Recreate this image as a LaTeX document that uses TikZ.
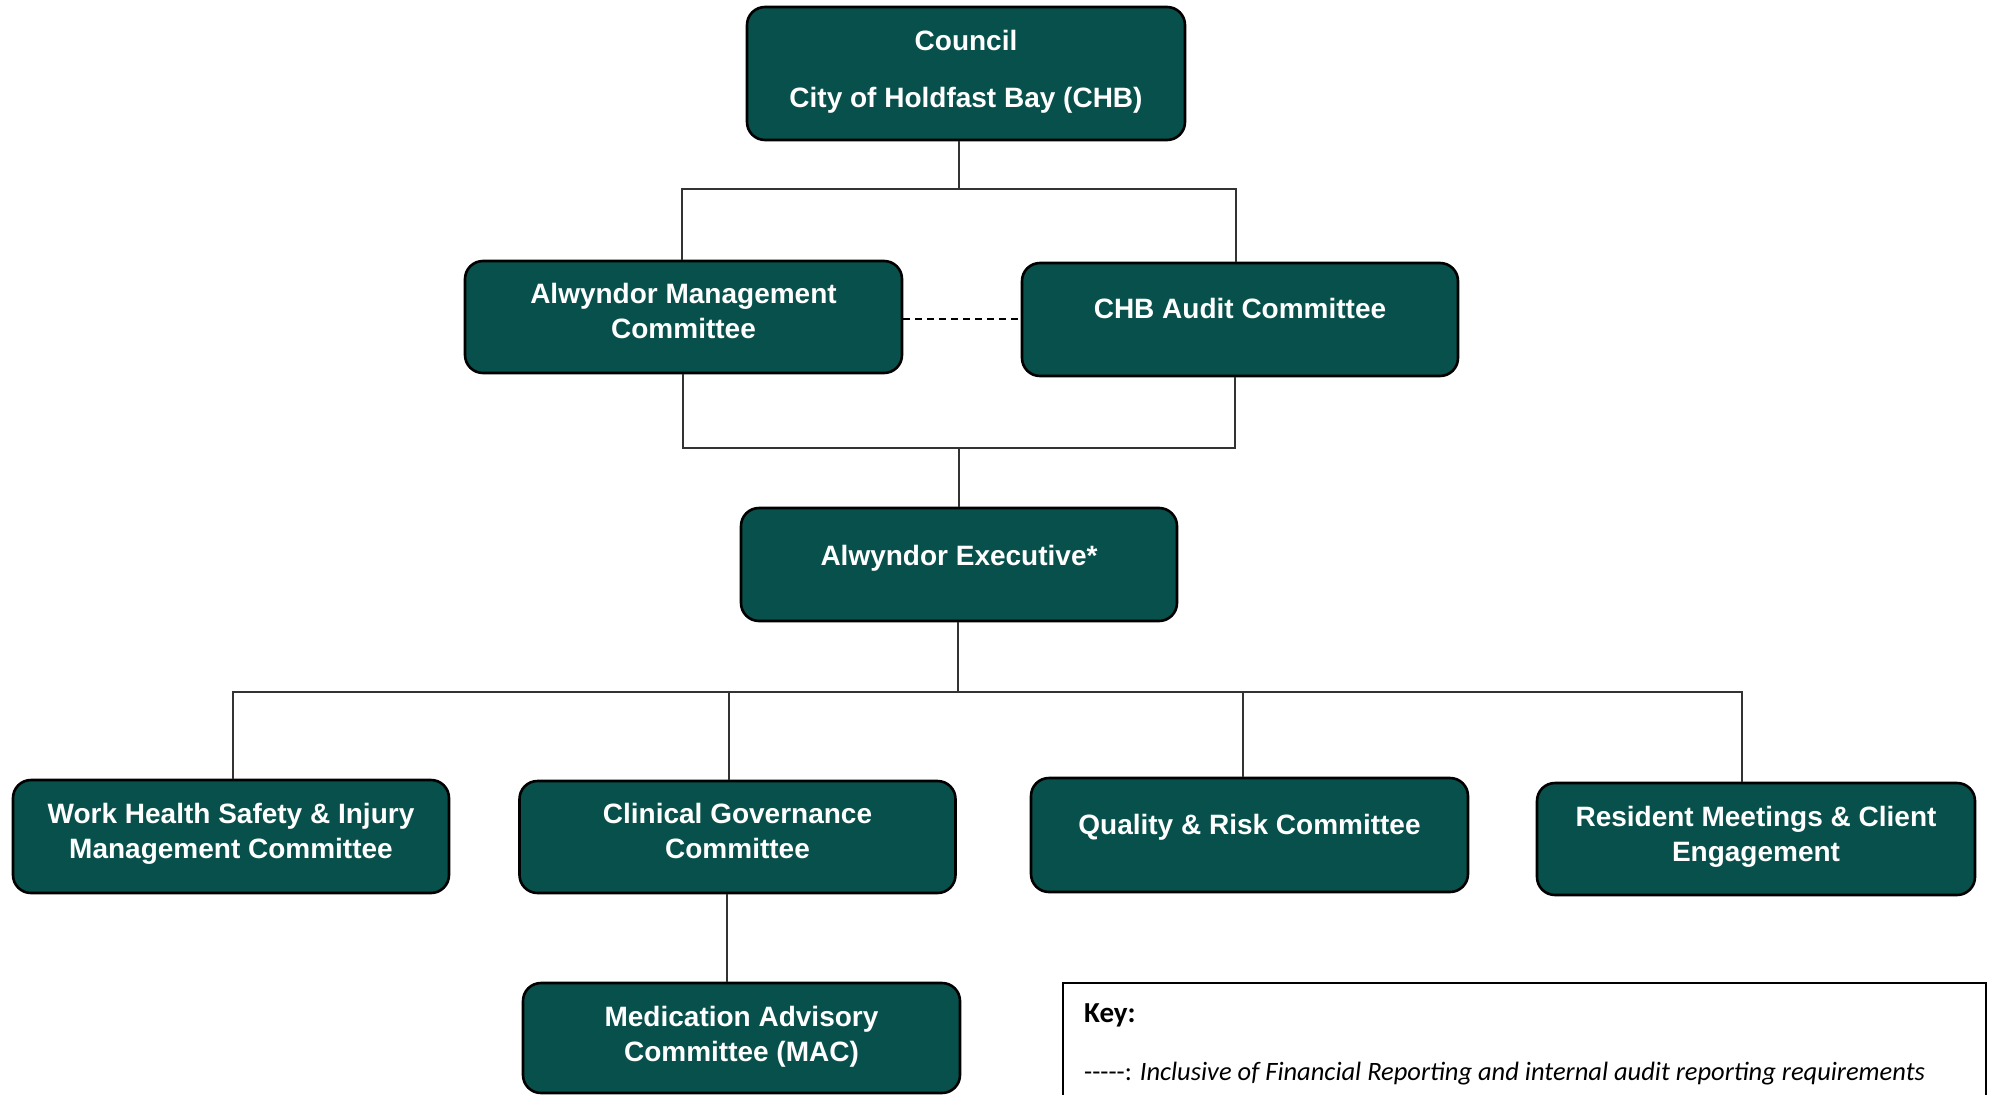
\documentclass[tikz,border=0pt]{standalone}
\usepackage{fontspec}
\setmainfont{Liberation Sans}
\newfontfamily\keyfont{Carlito}
\definecolor{boxteal}{HTML}{07504B}
\newcommand{\twolines}[2]{\begin{tabular}[t]{@{}c@{}}#1\\#2\end{tabular}}
\tikzset{
  orgbox/.style={draw=black, line width=2.6pt, fill=boxteal, rounded corners=18pt,
    minimum width=436pt, minimum height=113pt, inner sep=0pt},
  boxtxt/.style={text=white, font=\fontsize{28}{35}\selectfont\bfseries, anchor=base, inner sep=0pt},
  link/.style={draw=black!80, line width=1.4pt},
  dashlink/.style={draw=black, line width=2pt, dash pattern=on 7pt off 5pt},
  keytxt/.style={font=\keyfont\fontsize{26.5}{32}\selectfont, anchor=base west, inner sep=0pt},
}
\begin{document}
\begin{tikzpicture}[x=1pt,y=-1pt]
\path[fill=white,use as bounding box] (0,0) rectangle (1990,1095);

% boxes
\node[orgbox, minimum width=438pt, minimum height=133pt] (council) at (966,73.5) {};
\node[orgbox, minimum width=437pt, minimum height=112pt] (amc) at (683.5,317) {};
\node[orgbox] (chb) at (1240,319.5) {};
\node[orgbox] (exec) at (959,564.5) {};
\node[orgbox] (whs) at (231,836.5) {};
\node[orgbox, minimum height=112pt] (cgc) at (737.5,837) {};
\node[orgbox, minimum width=437pt, minimum height=114pt] (qr) at (1249.5,835) {};
\node[orgbox, minimum width=438pt, minimum height=112pt] (rmce) at (1756,839) {};
\node[orgbox, minimum width=437pt, minimum height=110pt] (mac) at (741.5,1038) {};

% box texts
\node[boxtxt] (council-t1) at (966,50) {Council};
\node[boxtxt] (council-t2) at (966,107) {City of Holdfast Bay (CHB)};
\node[boxtxt] (amc-t) at (683.5,303) {\twolines{Alwyndor Management}{Committee}};
\node[boxtxt] (chb-t) at (1240,318) {CHB Audit Committee};
\node[boxtxt] (exec-t) at (959,565) {Alwyndor Executive*};
\node[boxtxt] (whs-t) at (231,823) {\twolines{Work Health Safety \& Injury}{Management Committee}};
\node[boxtxt] (cgc-t) at (737.5,823) {\twolines{Clinical Governance}{Committee}};
\node[boxtxt] (qr-t) at (1249.5,834) {Quality \& Risk Committee};
\node[boxtxt] (rmce-t) at (1756,826) {\twolines{Resident Meetings \& Client}{Engagement}};
\node[boxtxt] (mac-t) at (741.5,1026) {\twolines{Medication Advisory}{Committee (MAC)}};

% junction coordinates
\coordinate (j1) at (959,189);
\coordinate (tl) at (682,189);
\coordinate (tr) at (1236,189);
\coordinate (bl) at (683,448);
\coordinate (br) at (1235,448);
\coordinate (j2) at (959,448);
\coordinate (j3) at (958,692);
\coordinate (h1) at (233,692);
\coordinate (h2) at (729,692);
\coordinate (h3) at (1243,692);
\coordinate (h4) at (1742,692);
\coordinate (m) at (727,940);
\coordinate (d) at (960,319);

% connectors
\draw[link] (council.south -| j1) -- (j1);
\draw[link] (amc.north -| tl) |- (tr) -- (chb.north -| tr);
\draw[link] (amc.south -| bl) |- (br) -- (chb.south -| br);
\draw[link] (j2) -- (exec.north -| j2);
\draw[link] (exec.south -| j3) -- (j3);
\draw[link] (whs.north -| h1) |- (h4) -- (rmce.north -| h4);
\draw[link] (h2) -- (cgc.north -| h2);
\draw[link] (h3) -- (qr.north -| h3);
\draw[link] (cgc.south -| m) -- (mac.north -| m);
\draw[dashlink] (amc.east |- d) -- (chb.west |- d);

% key
\coordinate (k1) at (1063,1095);
\coordinate (k2) at (1063,983);
\coordinate (k3) at (1986,983);
\coordinate (k4) at (1986,1095);
\draw[line width=2pt] (k1) -- (k2) -- (k3) -- (k4);
\node[keytxt, font=\keyfont\fontsize{29}{34}\selectfont] (key-t) at (1084,1022) {\bfseries Key:};
\node[keytxt] (key-l) at (1084,1080) {-{}-{}-{}-{}-: \textit{Inclusive of Financial Reporting and internal audit reporting requirements}};
\end{tikzpicture}
\end{document}
